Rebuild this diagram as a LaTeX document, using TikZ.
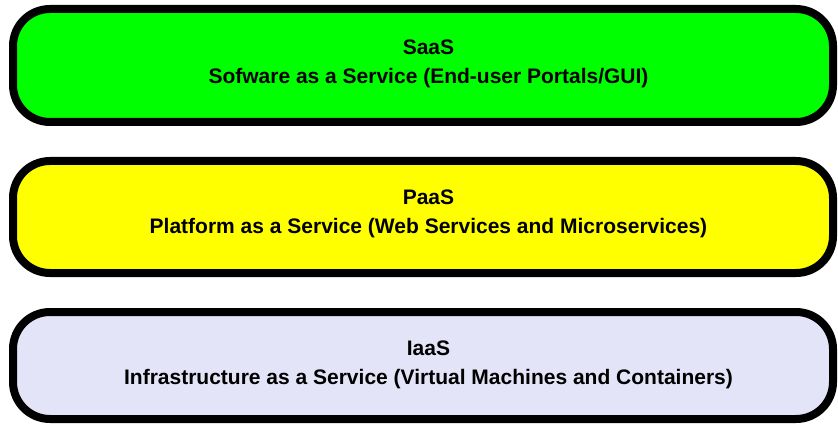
\documentclass[tikz,border=0pt]{standalone}
\usepackage{fontspec}
\setmainfont{Liberation Sans}
\usepackage{xcolor}
\usepackage{tikz}
\definecolor{saasgreen}{HTML}{00FF00}
\definecolor{paasyellow}{HTML}{FFFF00}
\definecolor{iaaslavender}{HTML}{E4E4F8}

\begin{document}
\begin{tikzpicture}[x=1pt,y=-1pt,
  layer/.style={draw=black,line width=8pt,rounded corners=37pt,minimum width=820pt,inner sep=0pt},
  layertext/.style={align=center,font=\fontsize{21}{29}\selectfont\bfseries}]
\useasboundingbox (0,0) rectangle (838,425);
\node[layer,fill=saasgreen,minimum height=113pt] (saas) at (423,65.5) {};
\node[layer,fill=paasyellow,minimum height=112pt] (paas) at (423,217) {};
\node[layer,fill=iaaslavender,minimum height=107pt] (iaas) at (423,365.5) {};
\node[layertext] (saas-txt) at (428.5,63.5) {SaaS\\Sofware as a Service (End-user Portals/GUI)};
\node[layertext] (paas-txt) at (428.5,214) {PaaS\\Platform as a Service (Web Services and Microservices)};
\node[layertext] (iaas-txt) at (428.5,365) {IaaS\\Infrastructure as a Service (Virtual Machines and Containers)};
\end{tikzpicture}
\end{document}
